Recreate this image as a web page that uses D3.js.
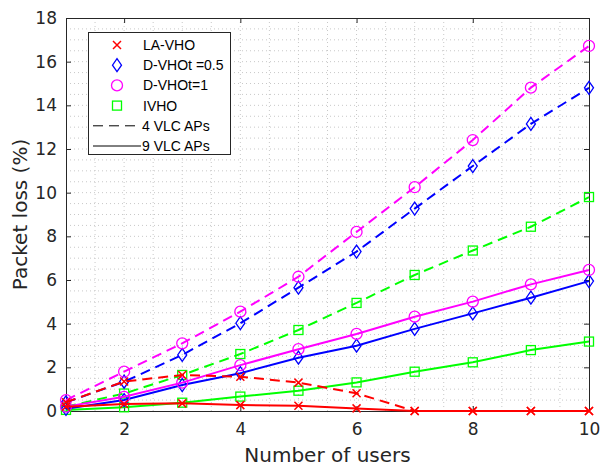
<!DOCTYPE html>
<html>
<head>
<meta charset="utf-8">
<script src="https://cdn.jsdelivr.net/npm/d3@7"></script>
<style>
  body { margin: 0; background: #fff; }
  text { font-family: "DejaVu Sans", sans-serif; }
</style>
</head>
<body>
<div id="container"></div>
<script>
// data
let users = [1, 2, 3, 4, 5, 6, 7, 8, 9, 10];
let xTicks = [2, 4, 6, 8, 10];
let yTicks = [0, 2, 4, 6, 8, 10, 12, 14, 16, 18];

let laVho4 = [0.4, 1.35, 1.65, 1.57, 1.3, 0.81, 0, 0, 0, 0];
let laVho9 = [0.2, 0.32, 0.35, 0.27, 0.24, 0.12, 0, 0, 0, 0];
let dVho05_4 = [0.4, 1.34, 2.57, 4.02, 5.65, 7.3, 9.27, 11.22, 13.15, 14.8];
let dVho05_9 = [0.1, 0.5, 1.19, 1.73, 2.44, 2.99, 3.76, 4.47, 5.19, 5.95];
let dVho1_4 = [0.5, 1.8, 3.1, 4.55, 6.15, 8.2, 10.25, 12.41, 14.81, 16.72];
let dVho1_9 = [0.2, 0.65, 1.3, 2.1, 2.83, 3.53, 4.32, 5.01, 5.8, 6.46];
let ivho4 = [0.2, 0.8, 1.65, 2.61, 3.71, 4.95, 6.23, 7.35, 8.44, 9.8];
let ivho9 = [0.05, 0.17, 0.38, 0.66, 0.93, 1.31, 1.8, 2.23, 2.79, 3.18];

let series = [
  { vals: ivho9, color: "#00ff00", marker: "square", dash: null },
  { vals: ivho4, color: "#00ff00", marker: "square", dash: "10,6" },
  { vals: dVho05_9, color: "#0000ff", marker: "diamond", dash: null },
  { vals: dVho05_4, color: "#0000ff", marker: "diamond", dash: "10,6" },
  { vals: dVho1_9, color: "#ff00ff", marker: "circle", dash: null },
  { vals: dVho1_4, color: "#ff00ff", marker: "circle", dash: "10,6" },
  { vals: laVho9, color: "#ff0000", marker: "cross", dash: null },
  { vals: laVho4, color: "#ff0000", marker: "cross", dash: "10,6" }
];

let width = 600;
let height = 467;
let margin = { left: 66, right: 11, top: 18, bottom: 56 };

let svg = d3.select("#container").append("svg")
  .attr("width", width)
  .attr("height", height);

let x = d3.scaleLinear().domain([1, 10]).range([margin.left, width - margin.right]);
let y = d3.scaleLinear().domain([0, 18]).range([height - margin.bottom, margin.top]);

//dotted grid every 0.5
let gridX = d3.range(1.5, 10, 0.5);
let gridY = d3.range(0.5, 18, 0.5);
svg.append("g").selectAll("line").data(gridX).enter().append("line")
  .attr("x1", d => x(d)).attr("x2", d => x(d))
  .attr("y1", y(0)).attr("y2", y(18))
  .attr("stroke", "#c8c8c8").attr("stroke-width", 1).attr("stroke-dasharray", "1,3");
svg.append("g").selectAll("line").data(gridY).enter().append("line")
  .attr("x1", x(1)).attr("x2", x(10))
  .attr("y1", d => y(d)).attr("y2", d => y(d))
  .attr("stroke", "#c8c8c8").attr("stroke-width", 1).attr("stroke-dasharray", "1,3");

//axes with inward ticks
let axisColor = "#262626";
function styleAxis(g) {
  g.select(".domain").attr("stroke", axisColor).attr("stroke-width", 1);
  g.selectAll(".tick line").attr("stroke", axisColor);
  g.selectAll("text").attr("fill", axisColor).style("font-size", "17px");
}
svg.append("g").attr("transform", `translate(0,${y(0)})`)
  .call(d3.axisBottom(x).tickValues(xTicks).tickSizeInner(-5).tickSizeOuter(0).tickPadding(12))
  .call(styleAxis);
svg.append("g").attr("transform", `translate(${x(1)},0)`)
  .call(d3.axisLeft(y).tickValues(yTicks).tickSizeInner(-5).tickSizeOuter(0).tickPadding(9))
  .call(styleAxis);
svg.append("g").attr("transform", `translate(0,${y(18)})`)
  .call(d3.axisTop(x).tickValues(xTicks).tickSizeInner(-5).tickSizeOuter(0).tickFormat(""))
  .call(styleAxis);
svg.append("g").attr("transform", `translate(${x(10)},0)`)
  .call(d3.axisRight(y).tickValues(yTicks).tickSizeInner(-5).tickSizeOuter(0).tickFormat(""))
  .call(styleAxis);

//markers
function drawMarker(g, kind, color, cx, cy) {
  if (kind === "square") {
    g.append("rect").attr("x", cx - 4.5).attr("y", cy - 4.5).attr("width", 9).attr("height", 9)
      .attr("fill", "none").attr("stroke", color).attr("stroke-width", 1.3);
  } else if (kind === "diamond") {
    g.append("path").attr("d", `M${cx},${cy - 6.5}L${cx + 4.5},${cy}L${cx},${cy + 6.5}L${cx - 4.5},${cy}Z`)
      .attr("fill", "none").attr("stroke", color).attr("stroke-width", 1.3);
  } else if (kind === "circle") {
    g.append("circle").attr("cx", cx).attr("cy", cy).attr("r", 5.5)
      .attr("fill", "none").attr("stroke", color).attr("stroke-width", 1.3);
  } else {
    g.append("path").attr("d", `M${cx - 4},${cy - 4}L${cx + 4},${cy + 4}M${cx - 4},${cy + 4}L${cx + 4},${cy - 4}`)
      .attr("stroke", color).attr("stroke-width", 1.5);
  }
}

let line = d3.line().x((d, i) => x(users[i])).y(d => y(d));
let plot = svg.append("g");
series.forEach(s => {
  plot.append("path").datum(s.vals)
    .attr("d", line)
    .attr("fill", "none")
    .attr("stroke", s.color)
    .attr("stroke-width", 2)
    .attr("stroke-dasharray", s.dash);
  let mg = plot.append("g");
  s.vals.forEach((v, i) => drawMarker(mg, s.marker, s.color, x(users[i]), y(v)));
});

//axis titles
svg.append("text")
  .attr("x", (x(1) + x(10)) / 2).attr("y", 462)
  .attr("text-anchor", "middle").attr("fill", axisColor)
  .style("font-size", "20px")
  .text("Number of users");
svg.append("text")
  .attr("transform", `translate(27,${(y(0) + y(18)) / 2}) rotate(-90)`)
  .attr("text-anchor", "middle").attr("fill", axisColor)
  .style("font-size", "20px")
  .text("Packet loss (%)");

//legend
let legendItems = [
  { label: "LA-VHO", marker: "cross", color: "#ff0000" },
  { label: "D-VHOt =0.5", marker: "diamond", color: "#0000ff" },
  { label: "D-VHOt=1", marker: "circle", color: "#ff00ff" },
  { label: "IVHO", marker: "square", color: "#00ff00" },
  { label: "4 VLC APs", line: "10,6" },
  { label: "9 VLC APs", line: null }
];
let lg = svg.append("g");
lg.append("rect").attr("x", 88.5).attr("y", 32.5).attr("width", 142).attr("height", 122)
  .attr("fill", "#fff").attr("stroke", axisColor).attr("stroke-width", 1);
legendItems.forEach((d, i) => {
  let cy = 45 + i * 20.2;
  if (d.marker) {
    drawMarker(lg, d.marker, d.color, 117, cy);
    lg.append("text").attr("x", 143).attr("y", cy + 5).attr("fill", "#000")
      .style("font-family", "'Liberation Sans', Arial, sans-serif")
      .style("font-size", "14px").text(d.label);
  } else {
    lg.append("line").attr("x1", 93).attr("x2", 141).attr("y1", cy).attr("y2", cy)
      .attr("stroke", "#000").attr("stroke-width", 1)
      .attr("stroke-dasharray", d.line);
    lg.append("text").attr("x", 142).attr("y", cy + 5).attr("fill", "#000")
      .style("font-family", "'Liberation Sans', Arial, sans-serif")
      .style("font-size", "14px").text(d.label);
  }
});
</script>
</body>
</html>
